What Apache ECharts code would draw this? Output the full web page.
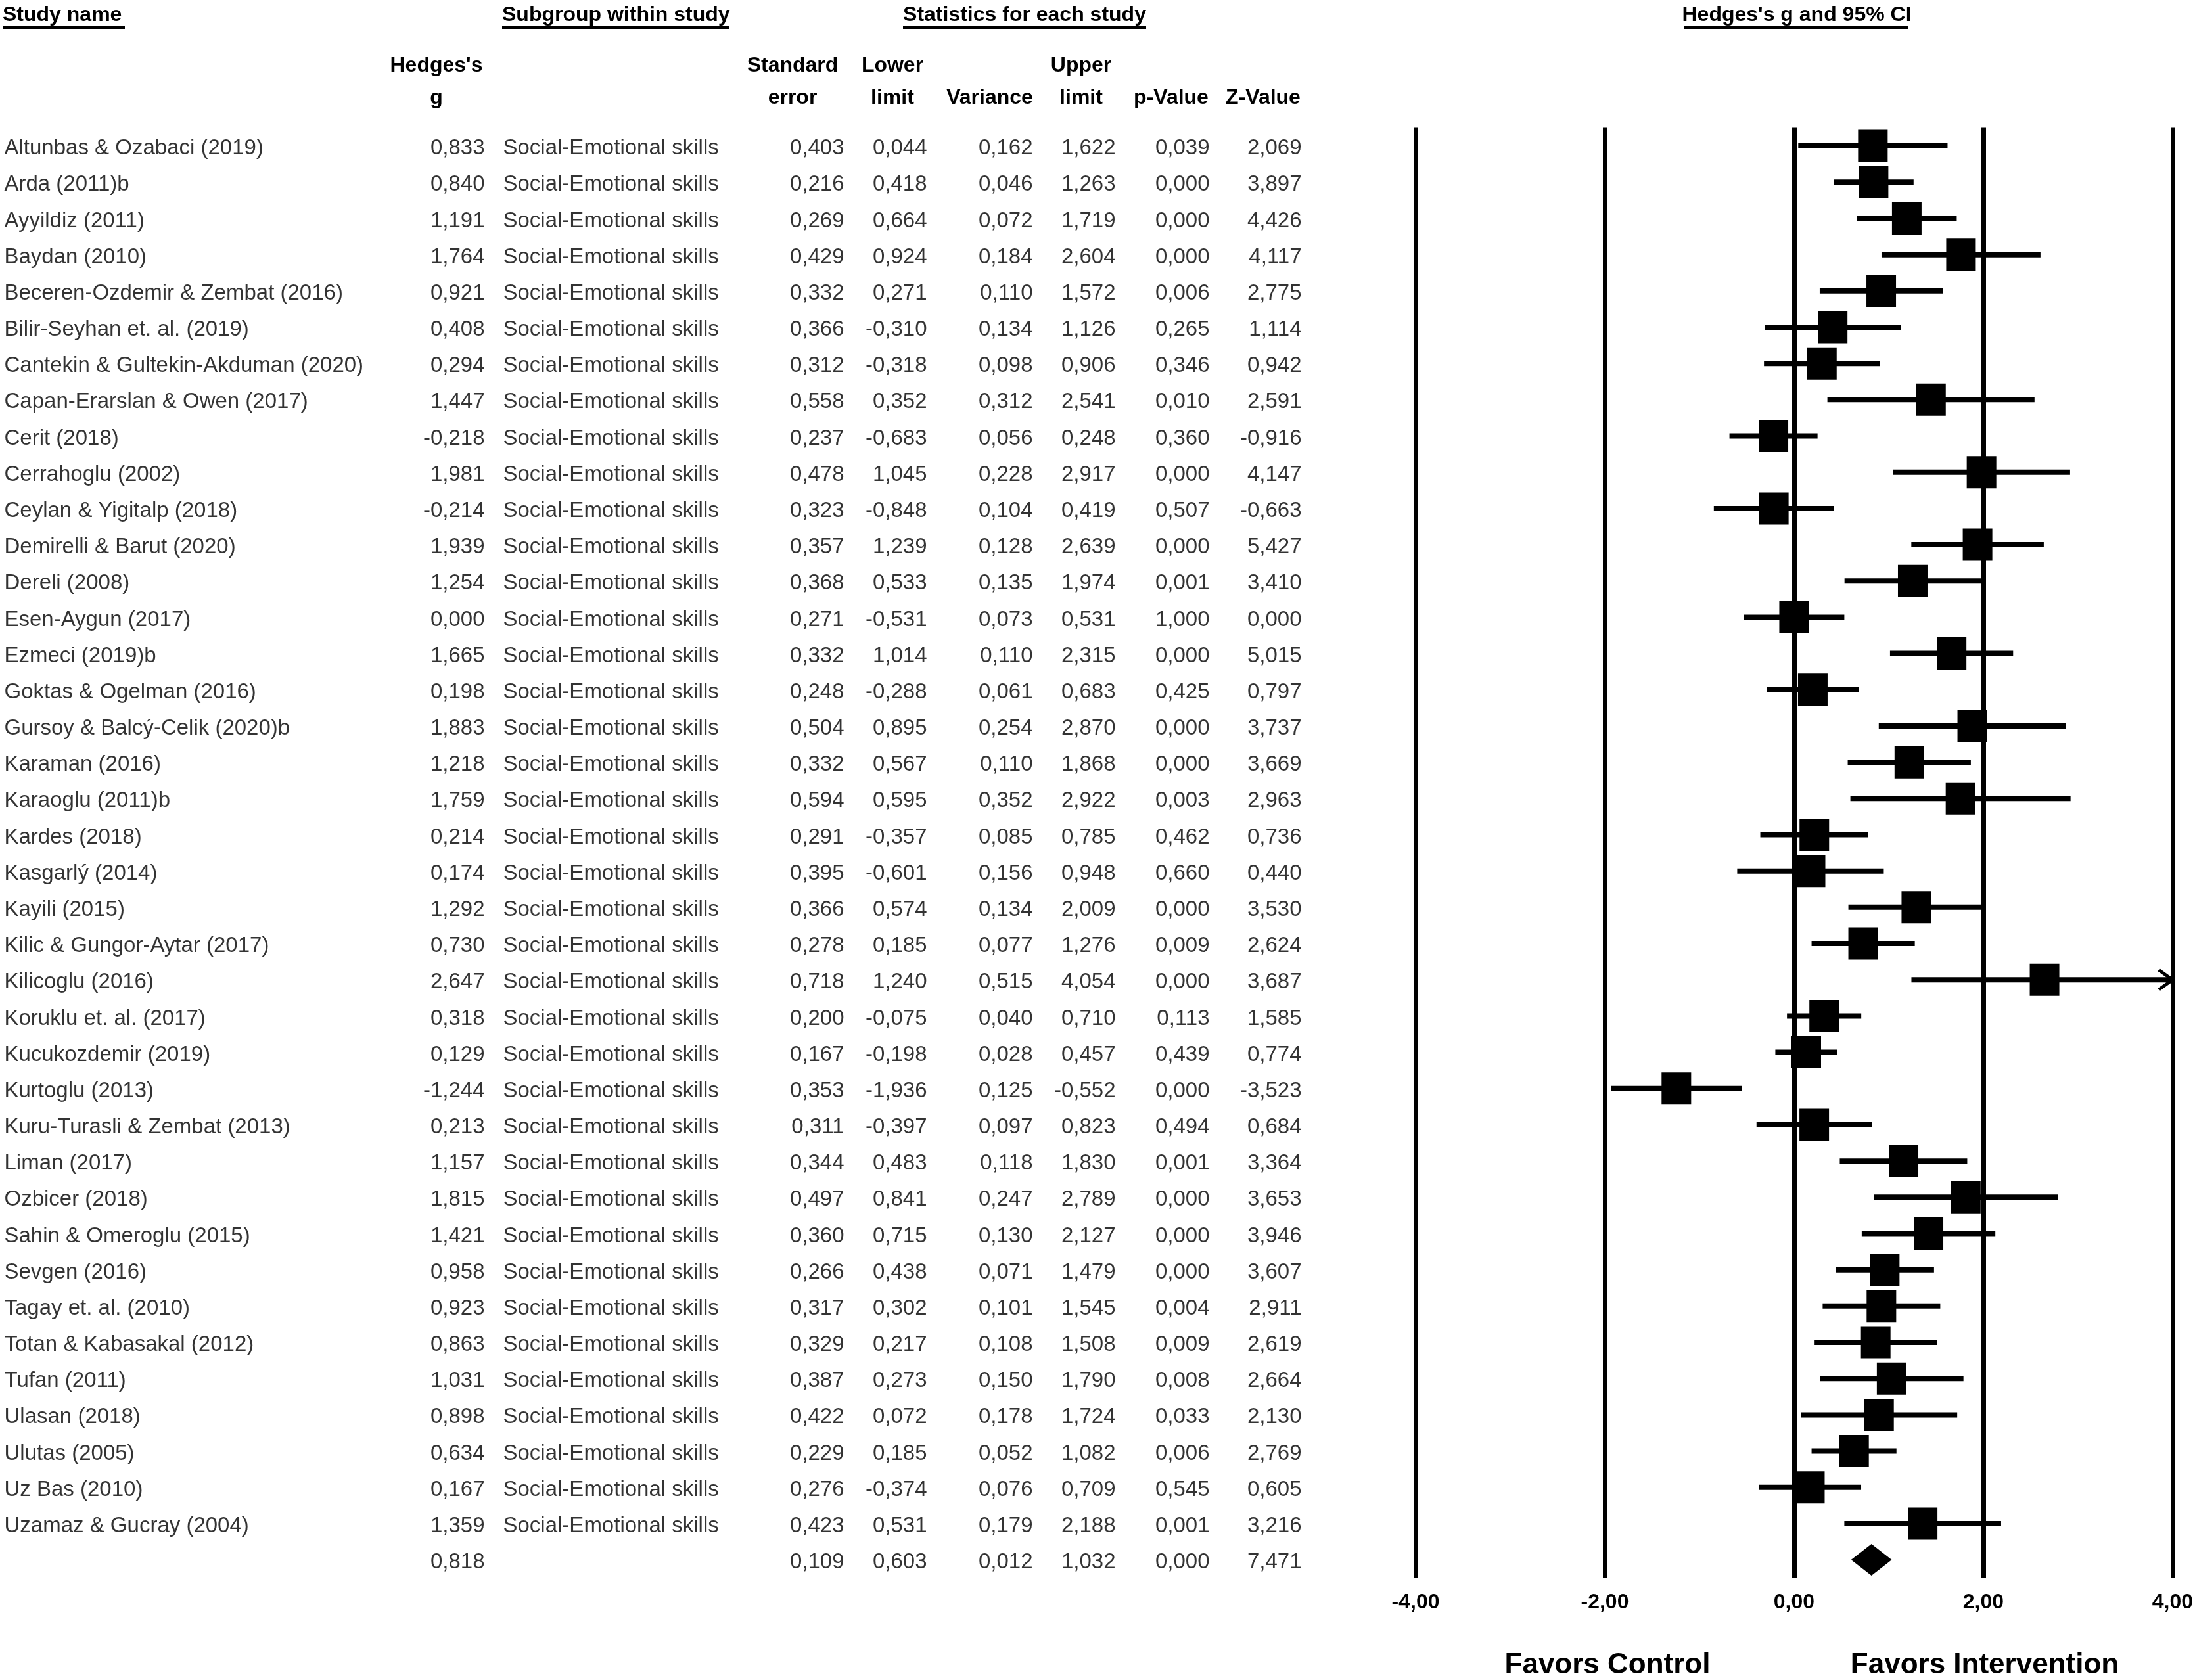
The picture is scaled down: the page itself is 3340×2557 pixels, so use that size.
<!DOCTYPE html>
<html><head><meta charset="utf-8">
<script src="https://cdn.jsdelivr.net/npm/echarts@6/dist/echarts.min.js"></script>
<style>html,body{margin:0;padding:0;background:#fff}#c{width:3340px;height:2557px}</style>
</head><body><div id="c"></div>
<script>
const studies = [
  'Altunbas & Ozabaci (2019)','Arda (2011)b','Ayyildiz (2011)','Baydan (2010)',
  'Beceren-Ozdemir & Zembat (2016)','Bilir-Seyhan et. al. (2019)','Cantekin & Gultekin-Akduman (2020)',
  'Capan-Erarslan & Owen (2017)','Cerit (2018)','Cerrahoglu (2002)','Ceylan & Yigitalp (2018)',
  'Demirelli & Barut (2020)','Dereli (2008)','Esen-Aygun (2017)','Ezmeci (2019)b',
  'Goktas & Ogelman (2016)','Gursoy & Balcý-Celik (2020)b','Karaman (2016)','Karaoglu (2011)b',
  'Kardes (2018)','Kasgarlý (2014)','Kayili (2015)','Kilic & Gungor-Aytar (2017)','Kilicoglu (2016)',
  'Koruklu et. al. (2017)','Kucukozdemir (2019)','Kurtoglu (2013)','Kuru-Turasli & Zembat (2013)',
  'Liman (2017)','Ozbicer (2018)','Sahin & Omeroglu (2015)','Sevgen (2016)','Tagay et. al. (2010)',
  'Totan & Kabasakal (2012)','Tufan (2011)','Ulasan (2018)','Ulutas (2005)','Uz Bas (2010)',
  'Uzamaz & Gucray (2004)'
];
const subgroupLabel = 'Social-Emotional skills';
const hedgesG = [0.833,0.840,1.191,1.764,0.921,0.408,0.294,1.447,-0.218,1.981,-0.214,1.939,1.254,0.000,1.665,0.198,1.883,1.218,1.759,0.214,0.174,1.292,0.730,2.647,0.318,0.129,-1.244,0.213,1.157,1.815,1.421,0.958,0.923,0.863,1.031,0.898,0.634,0.167,1.359];
const stdErr = [0.403,0.216,0.269,0.429,0.332,0.366,0.312,0.558,0.237,0.478,0.323,0.357,0.368,0.271,0.332,0.248,0.504,0.332,0.594,0.291,0.395,0.366,0.278,0.718,0.200,0.167,0.353,0.311,0.344,0.497,0.360,0.266,0.317,0.329,0.387,0.422,0.229,0.276,0.423];
const lowerLimit = [0.044,0.418,0.664,0.924,0.271,-0.310,-0.318,0.352,-0.683,1.045,-0.848,1.239,0.533,-0.531,1.014,-0.288,0.895,0.567,0.595,-0.357,-0.601,0.574,0.185,1.240,-0.075,-0.198,-1.936,-0.397,0.483,0.841,0.715,0.438,0.302,0.217,0.273,0.072,0.185,-0.374,0.531];
const variance = [0.162,0.046,0.072,0.184,0.110,0.134,0.098,0.312,0.056,0.228,0.104,0.128,0.135,0.073,0.110,0.061,0.254,0.110,0.352,0.085,0.156,0.134,0.077,0.515,0.040,0.028,0.125,0.097,0.118,0.247,0.130,0.071,0.101,0.108,0.150,0.178,0.052,0.076,0.179];
const upperLimit = [1.622,1.263,1.719,2.604,1.572,1.126,0.906,2.541,0.248,2.917,0.419,2.639,1.974,0.531,2.315,0.683,2.870,1.868,2.922,0.785,0.948,2.009,1.276,4.054,0.710,0.457,-0.552,0.823,1.830,2.789,2.127,1.479,1.545,1.508,1.790,1.724,1.082,0.709,2.188];
const pValue = [0.039,0.000,0.000,0.000,0.006,0.265,0.346,0.010,0.360,0.000,0.507,0.000,0.001,1.000,0.000,0.425,0.000,0.000,0.003,0.462,0.660,0.000,0.009,0.000,0.113,0.439,0.000,0.494,0.001,0.000,0.000,0.000,0.004,0.009,0.008,0.033,0.006,0.545,0.001];
const zValue = [2.069,3.897,4.426,4.117,2.775,1.114,0.942,2.591,-0.916,4.147,-0.663,5.427,3.410,0.000,5.015,0.797,3.737,3.669,2.963,0.736,0.440,3.530,2.624,3.687,1.585,0.774,-3.523,0.684,3.364,3.653,3.946,3.607,2.911,2.619,2.664,2.130,2.769,0.605,3.216];
// overall (summary) row: g, SE, lower, variance, upper, p, z
const overallStats = [0.818,0.109,0.603,0.012,1.032,0.000,7.471];
const xTicks = [-4,-2,0,2,4];

const X_MIN = -4, X_MAX = 4;
const FONT = '"Liberation Sans", Arial, sans-serif';
const nRows = studies.length + 1;
const rowKeys = Array.from({length:nRows}, (_, i) => 'r' + i);
const fmt3 = v => v.toFixed(3).replace('.', ',');
const fmt2 = v => v.toFixed(2).replace('.', ',');

// column anchor positions in the table grid (pixel units)
const COL = {name:6, g:738, sub:765, se:1285, ll:1411, vr:1572, ul:1698, p:1841, z:1981};

function textColumn(x, texts, align) {
  return {
    type:'scatter', xAxisIndex:1, yAxisIndex:1, silent:true, symbolSize:1,
    itemStyle:{color:'rgba(0,0,0,0)'},
    data: texts.map((t, i) => t === null ? null : {name:t, value:[x, i]}).filter(d => d),
    label:{show:true, position: align === 'right' ? 'left' : 'right', distance:0, offset:[0,4],
      formatter:'{b}', color:'#000', fontSize:33, fontFamily:FONT}
  };
}
const withOverall = (arr, k) => arr.map(fmt3).concat([fmt3(overallStats[k])]);

const series = [
  {
    type:'custom', xAxisIndex:0, yAxisIndex:0, silent:true,
    data: lowerLimit.map((l, i) => [l, upperLimit[i], i]),
    encode:{x:[0,1], y:2},
    renderItem:(params, api) => {
      const y = api.value(2), lo = api.value(0), hi = api.value(1);
      const p0 = api.coord([Math.max(lo, X_MIN), y]);
      const p1 = api.coord([Math.min(hi, X_MAX), y]);
      const children = [{type:'line', shape:{x1:p0[0], y1:p0[1], x2:p1[0], y2:p1[1]},
        style:{stroke:'#000', lineWidth:8}}];
      if (hi > X_MAX) {
        children.push({type:'polyline', shape:{points:[[p1[0]-21, p1[1]-15],[p1[0], p1[1]],[p1[0]-21, p1[1]+15]]},
          style:{stroke:'#000', lineWidth:5, fill:null}});
      }
      return {type:'group', children};
    }
  },
  {
    type:'scatter', xAxisIndex:0, yAxisIndex:0, silent:true,
    symbol:'rect', symbolSize:[45,49], itemStyle:{color:'#000', opacity:1},
    data: hedgesG.map((g, i) => [g, i])
  },
  {
    type:'custom', xAxisIndex:0, yAxisIndex:0, silent:true,
    data: [[overallStats[2], overallStats[0], overallStats[4], studies.length]],
    encode:{x:[0,1,2], y:3},
    renderItem:(params, api) => {
      const row = api.value(3);
      const l = api.coord([api.value(0), row]);
      const c = api.coord([api.value(1), row]);
      const r = api.coord([api.value(2), row]);
      const h = api.size([0, 1])[1] * 0.435;
      return {type:'polygon', shape:{points:[[l[0], c[1]],[c[0], c[1]-h],[r[0], c[1]],[c[0], c[1]+h]]},
        style:{fill:'#000'}};
    }
  },
  textColumn(COL.name, studies.concat([null]), 'left'),
  textColumn(COL.g, withOverall(hedgesG, 0), 'right'),
  textColumn(COL.sub, studies.map(() => subgroupLabel).concat([null]), 'left'),
  textColumn(COL.se, withOverall(stdErr, 1), 'right'),
  textColumn(COL.ll, withOverall(lowerLimit, 2), 'right'),
  textColumn(COL.vr, withOverall(variance, 3), 'right'),
  textColumn(COL.ul, withOverall(upperLimit, 4), 'right'),
  textColumn(COL.p, withOverall(pValue, 5), 'right'),
  textColumn(COL.z, withOverall(zValue, 6), 'right')
];

function txt(text, x, y, align, size, bold) {
  return {type:'text', silent:true, x:x, y:y,
    style:{text:text, fill:'#000', font:(bold ? 'bold ' : '') + size + 'px ' + FONT,
      textAlign:align, textVerticalAlign:'middle'}};
}
function uline(x1, x2, y) {
  return {type:'rect', silent:true, shape:{x:x1, y:y, width:x2 - x1, height:4}, style:{fill:'#000'}};
}

const graphic = [
  txt('Study name', 4, 23, 'left', 32, true), uline(4, 190, 40),
  txt('Subgroup within study', 764, 23, 'left', 32, true), uline(764, 1110, 40),
  txt('Statistics for each study', 1559, 23, 'center', 32, true), uline(1374, 1744, 40),
  txt("Hedges's g and 95% CI", 2734, 23, 'center', 32, true), uline(2563, 2904, 40),
  txt("Hedges's", 664, 100, 'center', 32, true), txt('g', 664, 149, 'center', 32, true),
  txt('Standard', 1206, 100, 'center', 32, true), txt('error', 1206, 149, 'center', 32, true),
  txt('Lower', 1358, 100, 'center', 32, true), txt('limit', 1358, 149, 'center', 32, true),
  txt('Variance', 1506, 149, 'center', 32, true),
  txt('Upper', 1645, 100, 'center', 32, true), txt('limit', 1645, 149, 'center', 32, true),
  txt('p-Value', 1782, 149, 'center', 32, true),
  txt('Z-Value', 1922, 149, 'center', 32, true),
  txt('Favors Control', 2446, 2535, 'center', 44, true),
  txt('Favors Intervention', 3020, 2535, 'center', 44, true)
];

const chart = echarts.init(document.getElementById('c'), null, {renderer:'canvas'});
chart.setOption({
  animation:false,
  backgroundColor:'#fff',
  grid:[
    {left:2154, width:1154, top:194.5, bottom:155.3},
    {left:0, width:3340, top:194.5, bottom:155.3}
  ],
  xAxis:[
    {gridIndex:0, type:'value', min:xTicks[0], max:xTicks[xTicks.length-1], interval:xTicks[1]-xTicks[0],
      axisLine:{show:false}, axisTick:{show:false},
      splitLine:{show:true, showMinLine:true, showMaxLine:true, lineStyle:{color:'#000', width:7}},
      axisLabel:{show:true, margin:21, formatter:fmt2, color:'#000', fontSize:32, fontWeight:'bold', fontFamily:FONT}},
    {gridIndex:1, type:'value', min:0, max:3340, show:false}
  ],
  yAxis:[
    {gridIndex:0, type:'category', data:rowKeys, inverse:true, show:false},
    {gridIndex:1, type:'category', data:rowKeys, inverse:true, show:false}
  ],
  graphic: graphic,
  series: series
});
</script>
</body></html>
